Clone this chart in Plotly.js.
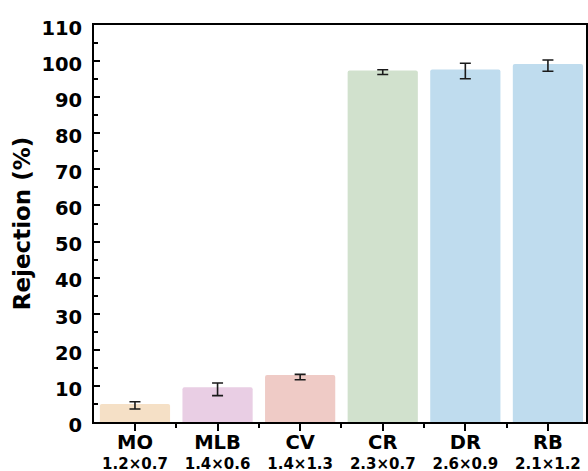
<!DOCTYPE html>
<html>
<head>
<meta charset="utf-8">
<script src="https://cdn.plot.ly/plotly-3.0.1.min.js"></script>
<style>
  html, body { margin: 0; padding: 0; background: #ffffff; }
  #chart { width: 588px; height: 471px; }
</style>
</head>
<body>
<div id="chart"></div>
<script>
// Dye molecules and their approximate dimensions (nm)
const dyes = ["MO", "MLB", "CV", "CR", "DR", "RB"];
const dyeSizes = ["1.2×0.7", "1.4×0.6", "1.4×1.3", "2.3×0.7", "2.6×0.9", "2.1×1.2"];

// Rejection (%) with upper / lower error extents
const rejection = [5.0, 9.6, 13.0, 97.4, 97.7, 99.2];
const errUp = [0.6, 1.2, 0.2, 0.2, 1.7, 1.1];
const errDown = [1.4, 2.3, 1.3, 1.1, 2.6, 2.0];

const barColors = ["#f5e0c6", "#e9cee4", "#efcbc6", "#d1e1cd", "#bfdcee", "#bfdcee"];

const positions = dyes.map((_, i) => i);
const tickLabels = dyes.map((d, i) =>
  '<span style="font-size:19.5px">' + d + '</span><br>' + dyeSizes[i]);

const fontFamily = "DejaVu Sans, Arial, sans-serif";

const trace = {
  type: "bar",
  x: positions,
  y: rejection,
  marker: { color: barColors, line: { width: 0 }, cornerradius: 2 },
  error_y: {
    type: "data",
    symmetric: false,
    array: errUp,
    arrayminus: errDown,
    color: "#1a1a1a",
    thickness: 1.6,
    width: 5.5
  },
  hoverinfo: "skip"
};

const layout = {
  width: 588,
  height: 471,
  margin: { l: 94, r: 2, t: 25, b: 49 },
  paper_bgcolor: "#ffffff",
  plot_bgcolor: "#ffffff",
  bargap: 0.15,
  showlegend: false,
  font: { family: fontFamily, color: "#000000", weight: 700 },
  xaxis: {
    range: [-0.496, 5.461],
    tickmode: "array",
    tickvals: positions,
    ticktext: tickLabels,
    tickfont: { family: fontFamily, size: 15, color: "#000000", weight: 700 },
    ticks: "outside",
    ticklen: 7,
    tickwidth: 2,
    tickcolor: "#000000",
    ticklabelstandoff: 0,
    minor: { tickmode: "linear", tick0: -0.5, dtick: 1, ticks: "outside", ticklen: 4, tickwidth: 2, tickcolor: "#000000" },
    showline: true,
    linewidth: 2,
    linecolor: "#000000",
    mirror: true,
    showgrid: false,
    zeroline: false,
    fixedrange: true
  },
  yaxis: {
    range: [0, 110],
    tickmode: "linear",
    tick0: 0,
    dtick: 10,
    tickfont: { family: fontFamily, size: 19.5, color: "#000000", weight: 700 },
    ticks: "inside",
    ticklen: 6,
    tickwidth: 2,
    tickcolor: "#000000",
    ticklabelstandoff: 6,
    ticklabelshift: 3,
    minor: { dtick: 5, ticks: "inside", ticklen: 3.5, tickwidth: 2, tickcolor: "#000000" },
    showline: true,
    linewidth: 2,
    linecolor: "#000000",
    mirror: true,
    showgrid: false,
    zeroline: false,
    title: {
      text: "Rejection (%)",
      font: { family: fontFamily, size: 23, color: "#000000", weight: 700 },
      standoff: 4
    },
    fixedrange: true
  }
};

Plotly.newPlot("chart", [trace], layout, { staticPlot: true, displayModeBar: false });
</script>
</body>
</html>
